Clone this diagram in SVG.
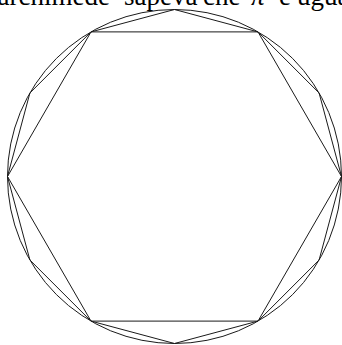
<svg xmlns="http://www.w3.org/2000/svg" width="342" height="345" viewBox="0 0 342 345">
<style>
.ln{fill:none;stroke:#1a1a1a;stroke-width:1;stroke-linejoin:miter}
.t{font-family:"Liberation Serif","Times New Roman",serif;font-size:27px;fill:#000}
</style>
<rect width="342" height="345" fill="#fff"/>
<g id="title">
<text class="t" y="5"><tspan x="110" text-anchor="end">archimede</tspan><tspan x="124">sapeva</tspan><tspan x="203">che</tspan><tspan x="251" font-style="italic">π</tspan><tspan x="279">è</tspan><tspan x="297">uguale</tspan></text>
</g>
<g id="circle">
<circle class="ln" cx="174.5" cy="176.5" r="167"/>
</g>
<g id="hexagon">
<polygon class="ln" points="341.5,176.5 258,321.1 91,321.1 7.5,176.5 91,31.9 258,31.9"/>
</g>
<g id="dodecagon">
<polygon class="ln" points="341.5,176.5 319.1,260 258,321.1 174.5,343.5 91,321.1 29.9,260 7.5,176.5 29.9,93 91,31.9 174.5,9.5 258,31.9 319.1,93"/>
</g>
</svg>
